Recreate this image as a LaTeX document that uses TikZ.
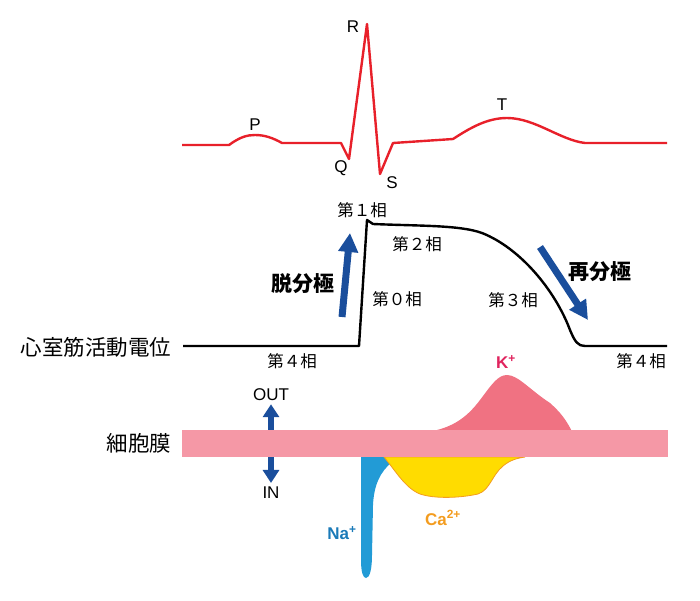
\documentclass[tikz,border=0pt]{standalone}
\usepackage{fontspec}
\setmainfont{Liberation Sans}
\newfontfamily\jp{Noto Sans CJK JP}
\usetikzlibrary{arrows.meta}
\definecolor{ecgred}{HTML}{E8202A}
\definecolor{arrblue}{HTML}{1A4E9C}
\definecolor{memb}{HTML}{F598A6}
\definecolor{kfill}{HTML}{F07282}
\definecolor{kcol}{HTML}{E0245E}
\definecolor{nafill}{HTML}{229BD6}
\definecolor{nacol}{HTML}{1A7AB8}
\definecolor{cafill}{HTML}{FFDC00}
\definecolor{cacol}{HTML}{F39C1F}
\begin{document}
\begin{tikzpicture}[x=1pt,y=-1pt,
  ecg/.style={draw=ecgred,line width=2.4pt,line join=round},
  apline/.style={draw=black,line width=2.4pt,line join=round},
  bigarrow/.style={draw=arrblue,line width=7pt,-{Triangle[width=19pt,length=19pt]}},
  ioarrow/.style={draw=arrblue,line width=6.5pt,{Triangle[width=16pt,length=13pt]}-{Triangle[width=16pt,length=13pt]}},
  lbl/.style={font=\fontsize{17}{17}\selectfont,inner sep=0pt},
  phase/.style={font=\jp\fontsize{16.5}{16.5}\selectfont,inner sep=0pt},
  jplbl/.style={font=\jp\fontsize{21.5}{21.5}\selectfont,inner sep=0pt},
  jpbold/.style={font=\jp\bfseries\fontsize{21}{21}\selectfont,inner sep=0pt},
  ion/.style={font=\bfseries\fontsize{17}{17}\selectfont,inner sep=0pt}]
\useasboundingbox (0,0) rectangle (700,600);
% ECG
\draw[ecg] (182,145) -- (229,145) .. controls (240,137) and (247,135) .. (255,135)
  .. controls (265,135) and (273,138) .. (282,143) -- (341,143) -- (349,159) -- (367,24)
  -- (380,174) -- (393,143) -- (453,139) .. controls (470,128) and (487,118) .. (507,118)
  .. controls (535,118) and (560,140) .. (585,143) -- (667,143);
\node[lbl] (P) at (255,125) {P};
\node[lbl] (Q) at (341,168) {Q};
\node[lbl] (R) at (353,27) {R};
\node[lbl] (S) at (392,183) {S};
\node[lbl] (T) at (502,105) {T};
% action potential
\draw[apline] (183,346) -- (359,346) -- (367,220) -- (373,224)
  .. controls (420,226) and (460,225) .. (482,233)
  .. controls (520,248) and (555,290) .. (570,330)
  .. controls (575,342) and (578,346) .. (585,346) -- (667,346);
\node[jplbl] (ap) at (96,347) {心室筋活動電位};
\node[phase] (ph1) at (362,210) {第１相};
\node[phase] (ph2) at (417,244) {第２相};
\node[phase] (ph0) at (397,299) {第０相};
\node[phase] (ph3) at (513,300) {第３相};
\node[phase] (ph4a) at (292,361) {第４相};
\node[phase] (ph4b) at (641,361) {第４相};
\node[jpbold] (depol) at (303,284) {脱分極};
\node[jpbold] (repol) at (600,272) {再分極};
\coordinate (d0) at (342,317);
\coordinate (d1) at (350,233);
\coordinate (r0) at (540,247);
\coordinate (r1) at (588,320);
\draw[bigarrow] (d0) -- (d1);
\draw[bigarrow] (r0) -- (r1);
% ion currents
\fill[kfill] (428,432) .. controls (450,428) and (465,420) .. (480,400)
  .. controls (492,384) and (498,375) .. (507,375)
  .. controls (518,375) and (530,390) .. (550,403)
  .. controls (560,412) and (567,420) .. (574,436) -- cycle;
\fill[nafill] (361,455) -- (361,560) .. controls (361,572) and (363,578) .. (366,578)
  .. controls (370,578) and (372,568) .. (372,555) -- (373,505)
  .. controls (374,485) and (380,472) .. (392,462) -- (400,455) -- cycle;
\filldraw[fill=cafill,draw=cacol,line width=0.8pt] (384,457)
  .. controls (395,470) and (405,488) .. (420,494)
  .. controls (435,499) and (460,498) .. (478,494)
  .. controls (490,490) and (492,475) .. (503,466)
  .. controls (510,460) and (518,458) .. (525,457) -- cycle;
% OUT / IN
\node[lbl] (out) at (271,395) {OUT};
\node[lbl] (in) at (271,493) {IN};
\draw[ioarrow,shorten <=3pt,shorten >=4pt] (out.south) -- (in.north);
% membrane
\fill[memb] (182,430) rectangle (668,457);
\node[jplbl] (mem) at (139,443) {細胞膜};
\node[ion,text=kcol] (K) at (506,362) {K\textsuperscript{+}};
\node[ion,text=nacol] (Na) at (342,533) {Na\textsuperscript{+}};
\node[ion,text=cacol] (Ca) at (443,518) {Ca\textsuperscript{2+}};
\end{tikzpicture}
\end{document}
